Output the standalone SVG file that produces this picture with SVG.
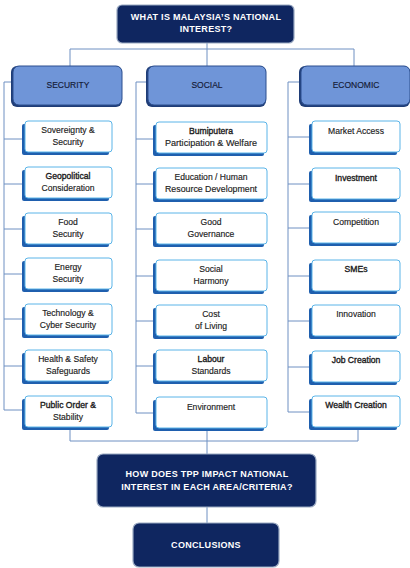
<svg xmlns="http://www.w3.org/2000/svg" width="410" height="568" viewBox="0 0 410 568">
<style>
.bg{fill:#ffffff}
.ln{stroke:#6f90c2;stroke-width:1;fill:none}
.navy{fill:#0f2660;stroke:#9aa9c2;stroke-width:1.2}
.ntx{font-family:"Liberation Sans",Arial,sans-serif;font-size:9px;font-weight:bold;fill:#ffffff;text-anchor:middle;letter-spacing:0.3px}
.cat{fill:#6f95d8;stroke:#2c4f8f;stroke-width:1}
.catsh{fill:#1f3d77}
.ctx{font-family:"Liberation Sans",Arial,sans-serif;font-size:8.5px;fill:#141a35;stroke:#141a35;stroke-width:0.15;text-anchor:middle}
.sh{fill:#1f5fae}
.bx{fill:#ffffff;stroke:#5ab4e8;stroke-width:1}
.tx{font-family:"Liberation Sans",Arial,sans-serif;font-size:8.6px;fill:#1c1c1c;stroke:#1c1c1c;stroke-width:0.15;text-anchor:middle}
.b{stroke-width:0.35}
</style>
<rect class="bg" x="0" y="0" width="410" height="568"/>
<g id="connectors">
<path class="ln" d="M207 43 V66 M70 49 H354 M70 49 V66 M354 49 V66"/>
<path class="ln" d="M13 82 H4 V410 H25 M4 139 H25 M4 184 H25 M4 229 H25 M4 274 H25 M4 319 H25 M4 366 H25"/>
<path class="ln" d="M148 82 H136 V413 H156 M136 139 H156 M136 184 H156 M136 229 H156 M136 276 H156 M136 321 H156 M136 366 H156"/>
<path class="ln" d="M301 82 H288 V412 H312 M288 137 H312 M288 184 H312 M288 228 H312 M288 276 H312 M288 321 H312 M288 367 H312"/>
<path class="ln" d="M70 428 V441 M207 428 V441 M358 427 V441 M70 441 H358 M207 441 V454 M207 507 V523"/>
</g>
<g id="q-national-interest">
<rect class="navy" x="117" y="5" width="177" height="38" rx="5"/>
<text class="ntx" x="206" y="20">WHAT IS MALAYSIA’S NATIONAL</text>
<text class="ntx" x="206" y="32">INTEREST?</text>
</g>
<g id="cat-security">
<rect class="catsh" x="11" y="66" width="111" height="41" rx="6"/>
<rect class="cat" x="13" y="66" width="109" height="39" rx="6"/>
<text class="ctx" x="68" y="88">SECURITY</text>
</g>
<g id="cat-social">
<rect class="catsh" x="146" y="66" width="120" height="41" rx="6"/>
<rect class="cat" x="148" y="66" width="118" height="39" rx="6"/>
<text class="ctx" x="207" y="88">SOCIAL</text>
</g>
<g id="cat-economic">
<rect class="catsh" x="299" y="66" width="111" height="41" rx="6"/>
<rect class="cat" x="301" y="66" width="109" height="39" rx="6"/>
<text class="ctx" x="356" y="88">ECONOMIC</text>
</g>
<g id="sec-sovereignty"><rect class="sh" x="22" y="124" width="87" height="31" rx="2"/><rect class="bx" x="25" y="121" width="87" height="31" rx="3"/><text class="tx" x="68" y="133">Sovereignty &amp;</text><text class="tx" x="68" y="145">Security</text></g>
<g id="sec-geopolitical"><rect class="sh" x="22" y="170" width="87" height="31" rx="2"/><rect class="bx" x="25" y="167" width="87" height="31" rx="3"/><text class="tx b" x="68" y="179">Geopolitical</text><text class="tx" x="68" y="191">Consideration</text></g>
<g id="sec-food"><rect class="sh" x="22" y="216" width="87" height="31" rx="2"/><rect class="bx" x="25" y="213" width="87" height="31" rx="3"/><text class="tx" x="68" y="225">Food</text><text class="tx" x="68" y="237">Security</text></g>
<g id="sec-energy"><rect class="sh" x="22" y="261" width="87" height="31" rx="2"/><rect class="bx" x="25" y="258" width="87" height="31" rx="3"/><text class="tx" x="68" y="270">Energy</text><text class="tx" x="68" y="282">Security</text></g>
<g id="sec-technology"><rect class="sh" x="22" y="307" width="87" height="31" rx="2"/><rect class="bx" x="25" y="304" width="87" height="31" rx="3"/><text class="tx" x="68" y="316">Technology &amp;</text><text class="tx" x="68" y="328">Cyber Security</text></g>
<g id="sec-health"><rect class="sh" x="22" y="353" width="87" height="31" rx="2"/><rect class="bx" x="25" y="350" width="87" height="31" rx="3"/><text class="tx" x="68" y="362">Health &amp; Safety</text><text class="tx" x="68" y="374">Safeguards</text></g>
<g id="sec-public-order"><rect class="sh" x="22" y="399" width="87" height="31" rx="2"/><rect class="bx" x="25" y="396" width="87" height="31" rx="3"/><text class="tx b" x="68" y="408">Public Order &amp;</text><text class="tx" x="68" y="420">Stability</text></g>
<g id="soc-bumiputera"><rect class="sh" x="153" y="125" width="111" height="31" rx="2"/><rect class="bx" x="156" y="122" width="111" height="31" rx="3"/><text class="tx b" x="211" y="134">Bumiputera</text><text class="tx" x="211" y="146" textLength="92" lengthAdjust="spacingAndGlyphs">Participation &amp; Welfare</text></g>
<g id="soc-education"><rect class="sh" x="153" y="171" width="111" height="31" rx="2"/><rect class="bx" x="156" y="168" width="111" height="31" rx="3"/><text class="tx" x="211" y="180">Education / Human</text><text class="tx" x="211" y="192" textLength="92" lengthAdjust="spacingAndGlyphs">Resource Development</text></g>
<g id="soc-governance"><rect class="sh" x="153" y="216" width="111" height="31" rx="2"/><rect class="bx" x="156" y="213" width="111" height="31" rx="3"/><text class="tx" x="211" y="225">Good</text><text class="tx" x="211" y="237">Governance</text></g>
<g id="soc-harmony"><rect class="sh" x="153" y="263" width="111" height="31" rx="2"/><rect class="bx" x="156" y="260" width="111" height="31" rx="3"/><text class="tx" x="211" y="272">Social</text><text class="tx" x="211" y="284">Harmony</text></g>
<g id="soc-cost"><rect class="sh" x="153" y="308" width="111" height="31" rx="2"/><rect class="bx" x="156" y="305" width="111" height="31" rx="3"/><text class="tx" x="211" y="317">Cost</text><text class="tx" x="211" y="329">of Living</text></g>
<g id="soc-labour"><rect class="sh" x="153" y="353" width="111" height="31" rx="2"/><rect class="bx" x="156" y="350" width="111" height="31" rx="3"/><text class="tx b" x="211" y="362">Labour</text><text class="tx" x="211" y="374">Standards</text></g>
<g id="soc-environment"><rect class="sh" x="153" y="400" width="111" height="31" rx="2"/><rect class="bx" x="156" y="397" width="111" height="31" rx="3"/><text class="tx" x="211" y="410">Environment</text></g>
<g id="eco-market"><rect class="sh" x="309" y="124" width="88" height="31" rx="2"/><rect class="bx" x="312" y="121" width="88" height="31" rx="3"/><text class="tx" x="356" y="134">Market Access</text></g>
<g id="eco-investment"><rect class="sh" x="309" y="171" width="88" height="31" rx="2"/><rect class="bx" x="312" y="168" width="88" height="31" rx="3"/><text class="tx b" x="356" y="181">Investment</text></g>
<g id="eco-competition"><rect class="sh" x="309" y="215" width="88" height="31" rx="2"/><rect class="bx" x="312" y="212" width="88" height="31" rx="3"/><text class="tx" x="356" y="225">Competition</text></g>
<g id="eco-smes"><rect class="sh" x="309" y="263" width="88" height="31" rx="2"/><rect class="bx" x="312" y="260" width="88" height="31" rx="3"/><text class="tx b" x="356" y="272">SMEs</text></g>
<g id="eco-innovation"><rect class="sh" x="309" y="308" width="88" height="31" rx="2"/><rect class="bx" x="312" y="305" width="88" height="31" rx="3"/><text class="tx" x="356" y="317">Innovation</text></g>
<g id="eco-job"><rect class="sh" x="309" y="354" width="88" height="31" rx="2"/><rect class="bx" x="312" y="351" width="88" height="31" rx="3"/><text class="tx b" x="356" y="363">Job Creation</text></g>
<g id="eco-wealth"><rect class="sh" x="309" y="399" width="88" height="31" rx="2"/><rect class="bx" x="312" y="396" width="88" height="31" rx="3"/><text class="tx b" x="356" y="408">Wealth Creation</text></g>
<g id="q-tpp-impact">
<rect class="navy" x="97" y="454" width="219" height="53" rx="6"/>
<text class="ntx" x="207" y="477">HOW DOES TPP IMPACT NATIONAL</text>
<text class="ntx" x="207" y="490">INTEREST IN EACH AREA/CRITERIA?</text>
</g>
<g id="conclusions">
<rect class="navy" x="133" y="523" width="146" height="44" rx="6"/>
<text class="ntx" x="206" y="548">CONCLUSIONS</text>
</g>
</svg>
